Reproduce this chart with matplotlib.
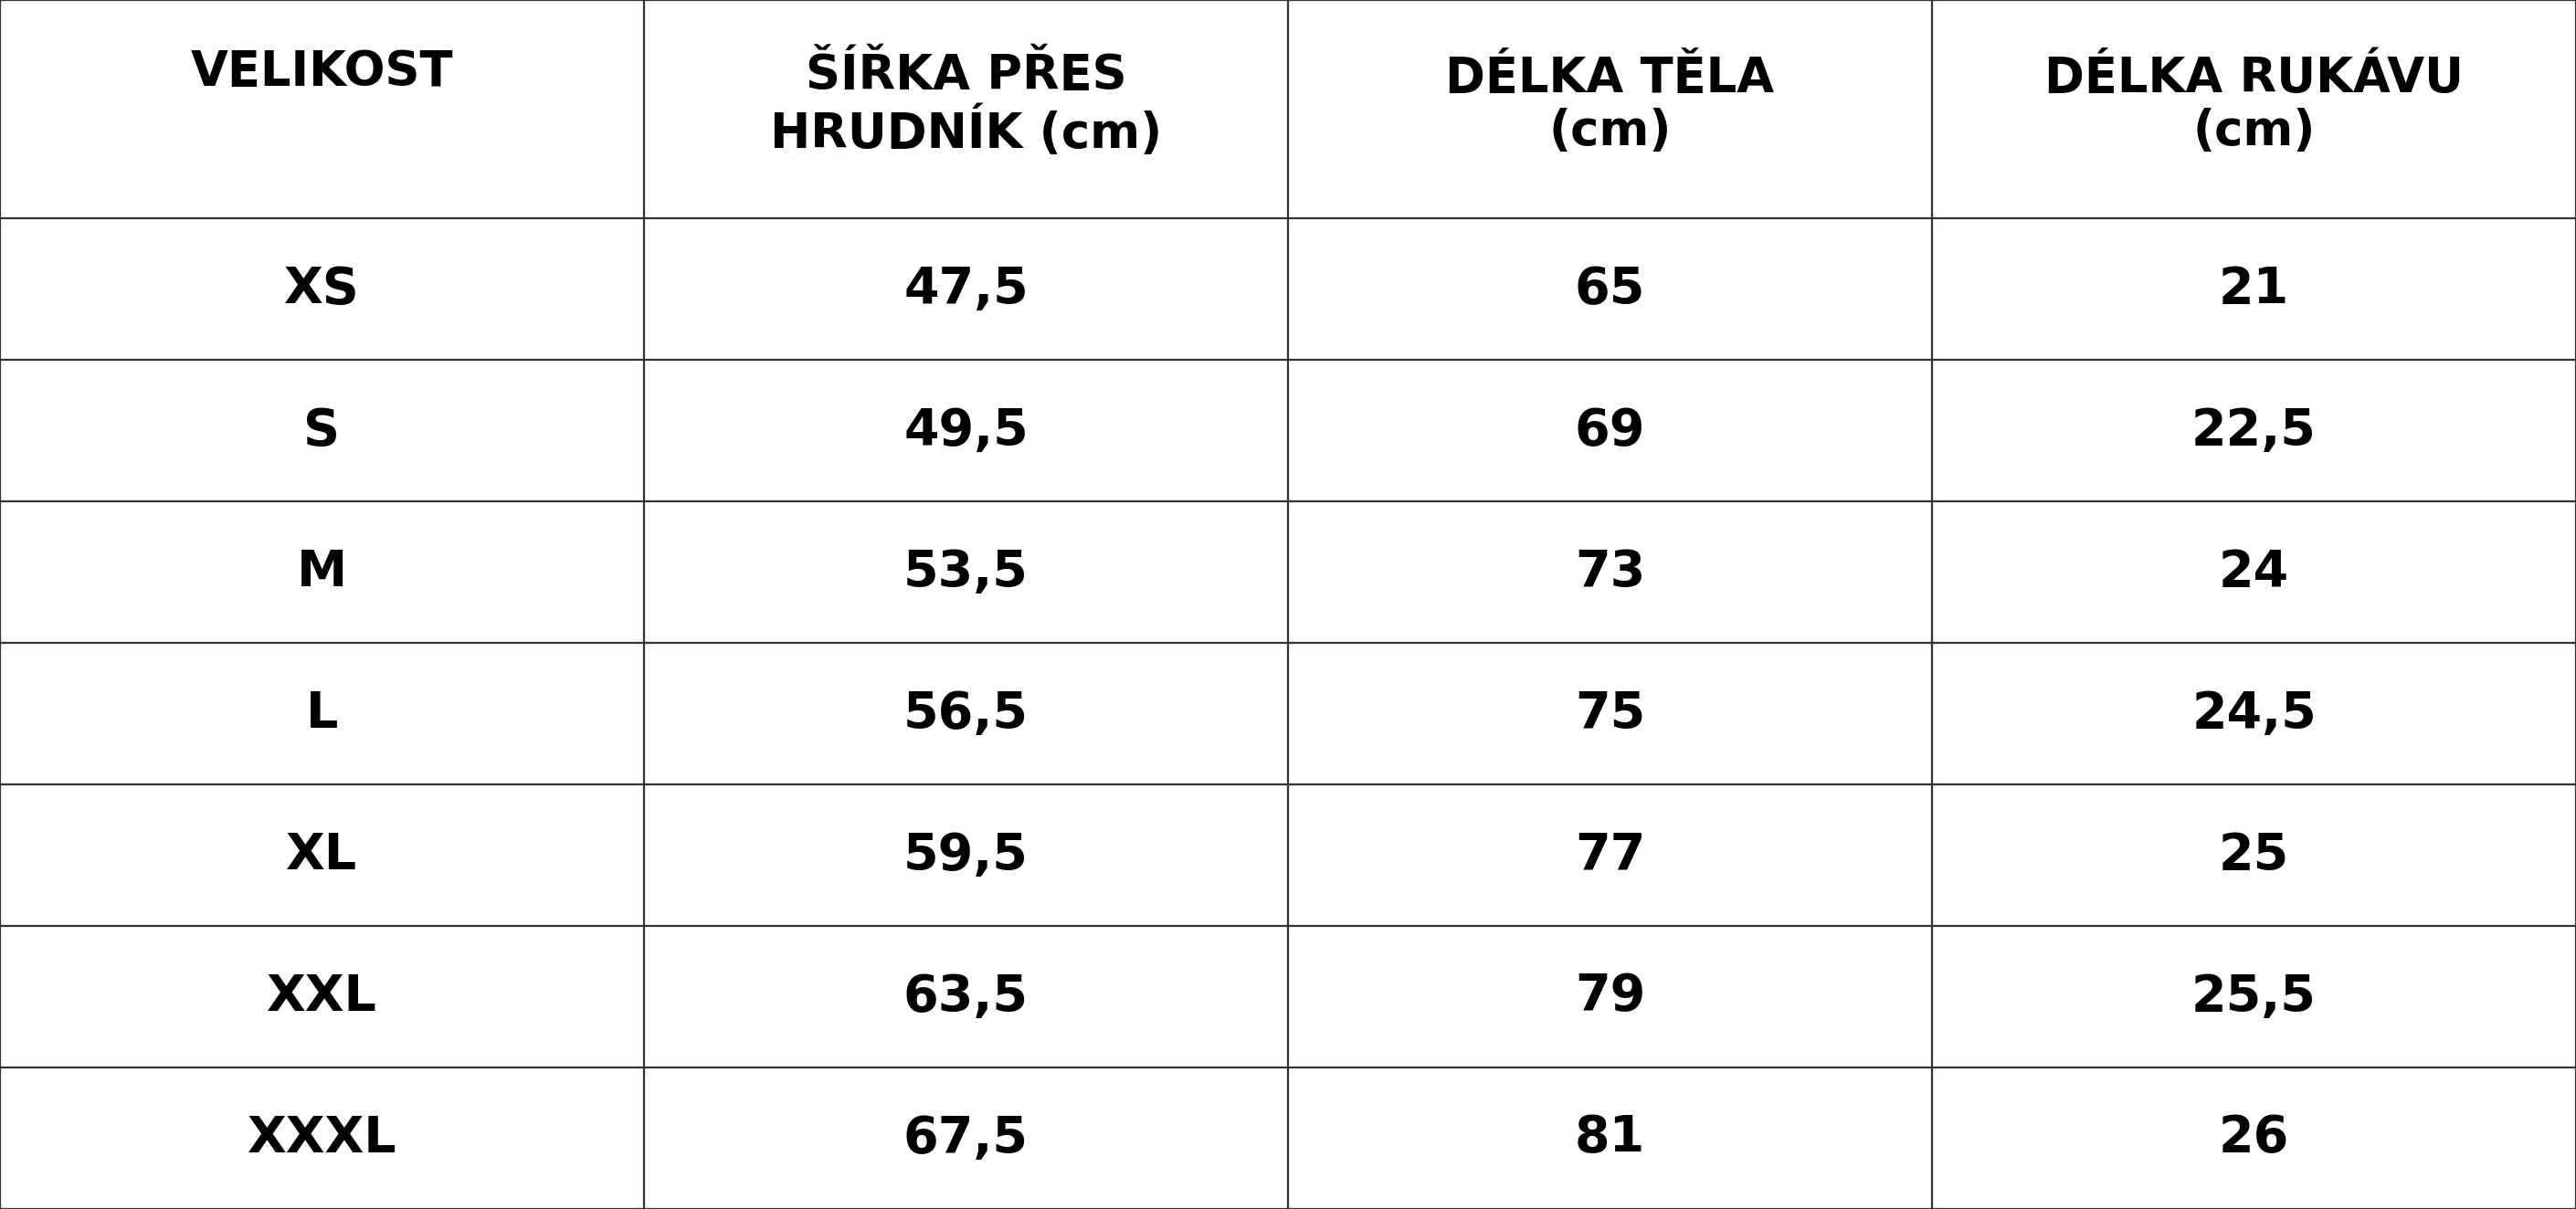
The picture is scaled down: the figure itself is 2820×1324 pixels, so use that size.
import matplotlib.pyplot as plt

headers = ["VELIKOST", "ŠÍŘKA PŘES\nHRUDNÍK (cm)", "DÉLKA TĚLA\n(cm)", "DÉLKA RUKÁVU\n(cm)"]
sizes = ["XS", "S", "M", "L", "XL", "XXL", "XXXL"]
chest = ["47,5", "49,5", "53,5", "56,5", "59,5", "63,5", "67,5"]
body = ["65", "69", "73", "75", "77", "79", "81"]
sleeve = ["21", "22,5", "24", "24,5", "25", "25,5", "26"]

W, H = 1568, 736
header_h = 133
row_h = (H - header_h) / len(sizes)
col_w = W / len(headers)

fig = plt.figure(figsize=(28.2, 13.24), dpi=100)
ax = fig.add_axes([0, 0, 1, 1])
ax.set_xlim(0, W)
ax.set_ylim(H, 0)
ax.axis("off")

line_kw = dict(color="#333333", lw=1.6)
for i in range(1, len(headers)):
    ax.plot([i * col_w, i * col_w], [0, H], **line_kw)
ax.plot([0, W], [header_h, header_h], **line_kw)
for r in range(1, len(sizes)):
    y = header_h + r * row_h
    ax.plot([0, W], [y, y], **line_kw)
ax.plot([0, W, W, 0, 0], [0, 0, H, H, 0], **line_kw)

for c, text in enumerate(headers):
    y = 44 if "\n" not in text else 64
    ax.text((c + 0.5) * col_w, y, text, ha="center", va="center",
            fontsize=38, fontweight="heavy", linespacing=1.15,
            family="DejaVu Sans")

columns = [sizes, chest, body, sleeve]
for c, values in enumerate(columns):
    for r, v in enumerate(values):
        ax.text((c + 0.5) * col_w, header_h + (r + 0.5) * row_h, v,
                ha="center", va="center", fontsize=40, fontweight="heavy",
                family="DejaVu Sans")

fig.savefig("out.png", dpi=100, facecolor="white")
